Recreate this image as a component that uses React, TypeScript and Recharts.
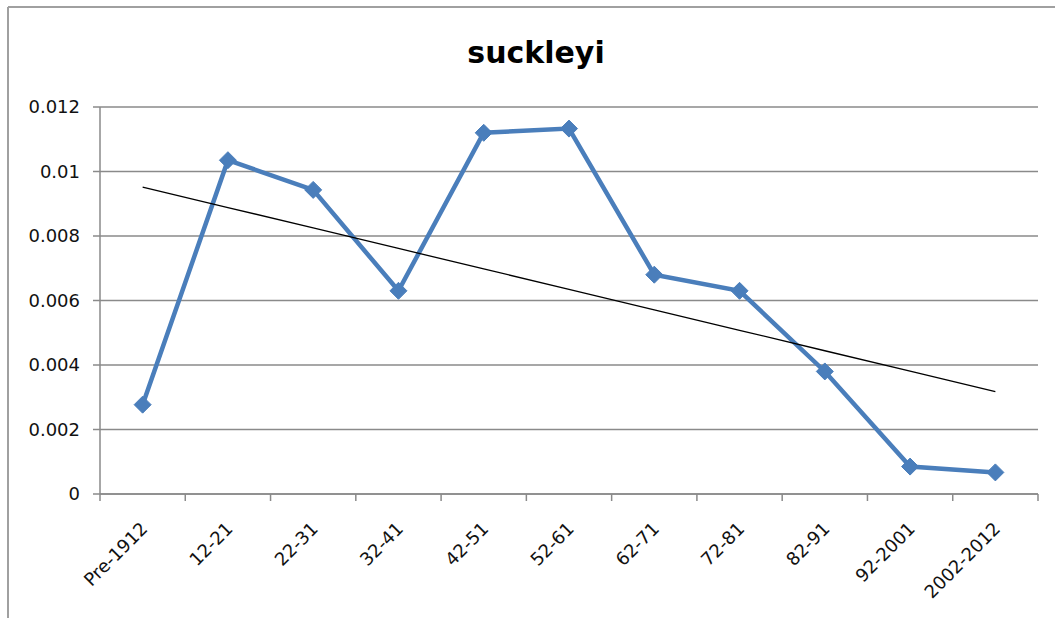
import React from "react";
import {
  ComposedChart,
  Line,
  XAxis,
  YAxis,
  CartesianGrid,
} from "recharts";

const categories = [
  "Pre-1912",
  "12-21",
  "22-31",
  "32-41",
  "42-51",
  "52-61",
  "62-71",
  "72-81",
  "82-91",
  "92-2001",
  "2002-2012",
];

const values = [
  0.00277, 0.01035, 0.00943, 0.0063, 0.0112, 0.01133, 0.0068, 0.0063, 0.0038,
  0.00085, 0.00067,
];

const yTicks = [0, 0.002, 0.004, 0.006, 0.008, 0.01, 0.012];

const TITLE = "suckleyi";

// Linear least-squares trend line (Excel-style "Linear" trendline) of the series
const n = values.length;
const xMean = (n + 1) / 2;
const yMean = values.reduce((a, b) => a + b, 0) / n;
let sxy = 0;
let sxx = 0;
values.forEach((v, i) => {
  const dx = i + 1 - xMean;
  sxy += dx * (v - yMean);
  sxx += dx * dx;
});
const slope = sxy / sxx;
const intercept = yMean - slope * xMean;

const data = categories.map((c, i) => ({
  cat: c,
  value: values[i],
  trend: intercept + slope * (i + 1),
}));

const W = 1055;
const H = 618;
const MARGIN = { top: 107, right: 17, bottom: 0, left: 0 };
const Y_W = 100;
const X_H = 124;
const HALF_BAND = (W - MARGIN.left - MARGIN.right - Y_W) / categories.length / 2;
const FONT = "'DejaVu Sans', 'Liberation Sans', sans-serif";
const AXIS_COLOR = "#8a8a8a";
const BLUE = "#4A7EBB";

const XTick = (props: any) => {
  const { x, y, payload, index } = props;
  const last = index === categories.length - 1;
  return (
    <g>
      <line x1={x - HALF_BAND} y1={y} x2={x - HALF_BAND} y2={y + 7} stroke={AXIS_COLOR} strokeWidth={1.5} />
      {last && (
        <line x1={x + HALF_BAND} y1={y} x2={x + HALF_BAND} y2={y + 7} stroke={AXIS_COLOR} strokeWidth={1.5} />
      )}
      <text
        transform={`translate(${x + 6},${y + 36}) rotate(-45)`}
        textAnchor="end"
        fontSize={18}
        fontFamily={FONT}
        fill="#111"
      >
        {payload.value}
      </text>
    </g>
  );
};

const Diamond = (props: any) => {
  const { cx, cy, index } = props;
  if (cx == null || cy == null) return <g key={`d-${index}`} />;
  const r = 8.5;
  return (
    <polygon
      key={`d-${index}`}
      points={`${cx},${cy - r} ${cx + r},${cy} ${cx},${cy + r} ${cx - r},${cy}`}
      fill={BLUE}
      stroke={BLUE}
      strokeWidth={1}
    />
  );
};

export default function App() {
  return (
    <div
      style={{
        position: "absolute",
        left: 0,
        top: 0,
        width: W,
        height: H,
        overflow: "hidden",
        background: "#fff",
      }}
    >
      <ComposedChart width={W} height={H} data={data} margin={MARGIN}>
        <CartesianGrid vertical={false} stroke={AXIS_COLOR} strokeWidth={1.5} />
        <XAxis
          dataKey="cat"
          scale="band"
          interval={0}
          height={X_H}
          tickSize={0}
          tickMargin={0}
          tickLine={false}
          axisLine={{ stroke: AXIS_COLOR, strokeWidth: 1.5 }}
          tick={<XTick />}
        />
        <YAxis
          domain={[0, 0.012]}
          ticks={yTicks}
          width={Y_W}
          tickSize={7}
          tickMargin={13}
          axisLine={{ stroke: AXIS_COLOR, strokeWidth: 1.5 }}
          tickLine={{ stroke: AXIS_COLOR, strokeWidth: 1.5 }}
          tick={{ fontSize: 18, fill: "#111", fontFamily: FONT }}
          tickFormatter={(v: number) => String(v)}
        />
        <Line
          type="linear"
          dataKey="value"
          stroke={BLUE}
          strokeWidth={4.5}
          dot={<Diamond />}
          activeDot={false}
          isAnimationActive={false}
        />
        <Line
          type="linear"
          dataKey="trend"
          stroke="#000"
          strokeWidth={1.3}
          dot={false}
          activeDot={false}
          isAnimationActive={false}
        />
      </ComposedChart>
      <svg
        width={W}
        height={H}
        style={{ position: "absolute", left: 0, top: 0, pointerEvents: "none" }}
      >
        <line x1={8} y1={7} x2={W} y2={7} stroke="#a0a0a0" strokeWidth={2} />
        <line x1={8} y1={7} x2={8} y2={H} stroke="#a0a0a0" strokeWidth={2} />
        <text
          x={536}
          y={63}
          textAnchor="middle"
          fontSize={30}
          fontWeight="bold"
          fontFamily={FONT}
          fill="#000"
        >
          {TITLE}
        </text>
      </svg>
    </div>
  );
}
